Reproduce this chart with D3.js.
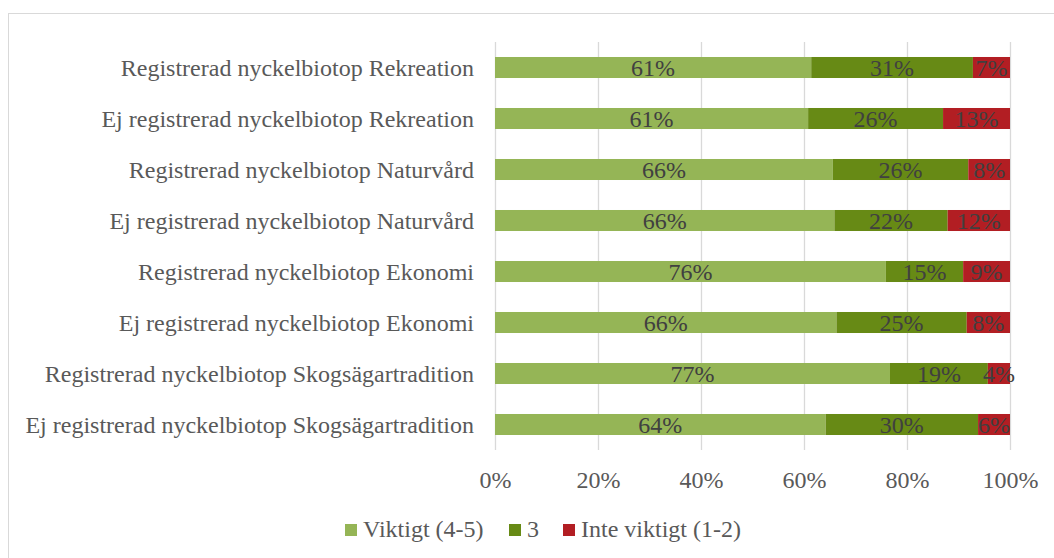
<!DOCTYPE html>
<html>
<head>
<meta charset="utf-8">
<script src="https://cdn.jsdelivr.net/npm/d3@7"></script>
<style>
  html, body { margin: 0; padding: 0; background: #fff; }
  svg { display: block; }
  text { font-family: "Liberation Serif", "Times New Roman", serif; }
</style>
</head>
<body>
<svg id="chart" width="1054" height="558"></svg>
<script>
const categories = [
  "Registrerad nyckelbiotop Rekreation",
  "Ej registrerad nyckelbiotop Rekreation",
  "Registrerad nyckelbiotop Naturvård",
  "Ej registrerad nyckelbiotop Naturvård",
  "Registrerad nyckelbiotop Ekonomi",
  "Ej registrerad nyckelbiotop Ekonomi",
  "Registrerad nyckelbiotop Skogsägartradition",
  "Ej registrerad nyckelbiotop Skogsägartradition"
];
const seriesNames = ["Viktigt (4-5)", "3", "Inte viktigt (1-2)"];
const viktigt = [61.4, 60.8, 65.6, 65.9, 75.9, 66.3, 76.7, 64.2];
const tre     = [31.4, 26.2, 26.3, 22.0, 15.0, 25.3, 19.0, 29.6];
const inte    = [7.2, 13.0, 8.1, 12.1, 9.1, 8.4, 4.3, 6.2];
const tickValues = [0, 20, 40, 60, 80, 100];
const colors = ["#95b556", "#678a15", "#b21e23"];

const svg = d3.select("#chart");
const W = 1054, H = 558;

// chart border
svg.append("rect")
  .attr("x", 8.5).attr("y", 13.5)
  .attr("width", W + 10).attr("height", H + 10)
  .attr("fill", "none").attr("stroke", "#d9d9d9").attr("stroke-width", 1);

const x = d3.scaleLinear().domain([0, 100]).range([495, 1010]);
const y = d3.scaleBand().domain(categories).range([42, 450])
  .paddingInner(0.588).paddingOuter(0.294);

// gridlines
svg.append("g").selectAll("line").data(tickValues).join("line")
  .attr("x1", d => Math.round(x(d)) + 0.5).attr("x2", d => Math.round(x(d)) + 0.5)
  .attr("y1", 42).attr("y2", 450)
  .attr("stroke", "#d9d9d9").attr("stroke-width", 1.3);

// x axis labels via d3 axis
const xAxis = d3.axisBottom(x).tickValues(tickValues).tickSize(0).tickPadding(0)
  .tickFormat(d => d + "%");
const gx = svg.append("g").attr("transform", "translate(0,470)").call(xAxis);
gx.select(".domain").remove();
gx.selectAll("text").attr("font-size", "24px").attr("fill", "#595959")
  .attr("font-family", "Liberation Serif, Times New Roman, serif")
  .attr("dy", "0").attr("y", 18);

// y axis labels
const yAxis = d3.axisLeft(y).tickSize(0).tickPadding(21);
const gy = svg.append("g").attr("transform", "translate(495,0)").call(yAxis);
gy.select(".domain").remove();
gy.selectAll("text").attr("font-size", "24px").attr("fill", "#595959")
  .attr("font-family", "Liberation Serif, Times New Roman, serif")
  .attr("dy", "0.37em");

// stacked data
const rows = categories.map((c, i) => ({ cat: c, s0: viktigt[i], s1: tre[i], s2: inte[i] }));
const stack = d3.stack().keys(["s0", "s1", "s2"]);
const series = stack(rows);

const gBars = svg.append("g");
series.forEach((s, si) => {
  gBars.append("g").selectAll("rect").data(s).join("rect")
    .attr("x", d => x(d[0]))
    .attr("width", d => x(d[1]) - x(d[0]))
    .attr("y", d => y(d.data.cat))
    .attr("height", y.bandwidth())
    .attr("fill", colors[si]);
});

const gLabels = svg.append("g");
series.forEach((s, si) => {
  gLabels.append("g").selectAll("text").data(s).join("text")
    .attr("x", d => (x(d[0]) + x(d[1])) / 2)
    .attr("y", d => y(d.data.cat) + y.bandwidth() / 2)
    .attr("dy", "0.37em")
    .attr("text-anchor", "middle")
    .attr("font-size", "24px")
    .attr("fill", "#404040")
    .text(d => Math.round(d[1] - d[0]) + "%");
});

// legend
const legendX = [345, 509, 563];
const lg = svg.append("g");
seriesNames.forEach((n, i) => {
  lg.append("rect").attr("x", legendX[i]).attr("y", 524).attr("width", 12).attr("height", 12)
    .attr("fill", colors[i]);
  lg.append("text").attr("x", legendX[i] + 18).attr("y", 537)
    .attr("font-size", "24px").attr("fill", "#595959").text(n);
});
</script>
</body>
</html>
